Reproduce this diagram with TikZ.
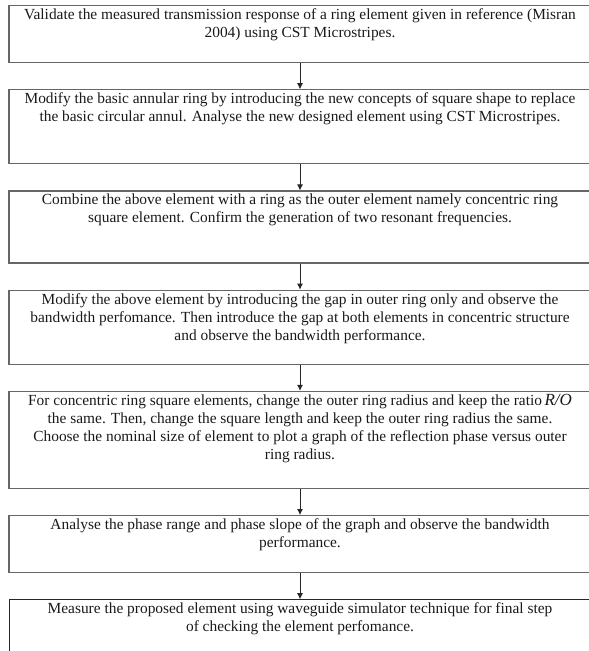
\documentclass[tikz,border=0pt]{standalone}
\usepackage{fontspec}
\setmainfont{Liberation Serif}
\usetikzlibrary{positioning,arrows.meta}

\tikzset{
  stepbox/.style={draw=black!60, line width=1.2pt, inner sep=0pt, text=black!90,
    execute at begin node={\begin{minipage}[t][#1][t]{582pt}\centering
      \fontsize{15.4pt}{18pt}\selectfont\vspace*{3pt}},
    execute at end node={\end{minipage}}},
  lastbox/.style={stepbox=#1, draw=black!85, line width=0.8pt},
  flow/.style={-{Latex[length=6pt,width=6pt]}, line width=0.8pt, black!85}
}

\begin{document}
\begin{tikzpicture}
  [node distance=26pt]
  \useasboundingbox (0,0) rectangle (589pt,-651pt);
  \clip (0,0) rectangle (589pt,-651pt);

  \node [name=validate, stepbox=57pt, anchor=north] at (300pt,-5pt)
    {Validate the measured transmission response of a ring element given in reference (Misran\\
     2004) using CST Microstripes.};
  \node [name=modify, stepbox=74pt, below=of validate]
    {Modify the basic annular ring by introducing the new concepts of square shape to replace\\
     the basic circular annul. Analyse the new designed element using CST Microstripes.};
  \node [name=combine, stepbox=72pt, below=of modify]
    {Combine the above element with a ring as the outer element namely concentric ring\\
     square element. Confirm the generation of two resonant frequencies.};
  \node [name=gap, stepbox=74pt, below=of combine]
    {Modify the above element by introducing the gap in outer ring only and observe the\\
     bandwidth perfomance. Then introduce the gap at both elements in concentric structure\\
     and observe the bandwidth performance.};
  \node [name=radius, stepbox=97pt, below=of gap]
    {For concentric ring square elements, change the outer ring radius and keep the ratio\,{\fontsize{17pt}{18pt}\selectfont\itshape R/O}\\
     the same. Then, change the square length and keep the outer ring radius the same.\\
     Choose the nominal size of element to plot a graph of the reflection phase versus outer\\
     ring radius.};
  \node [name=analyse, stepbox=57pt, below=of radius]
    {Analyse the phase range and phase slope of the graph and observe the bandwidth\\
     performance.};
  \node [name=measure, lastbox=70pt, below=of analyse]
    {Measure the proposed element using waveguide simulator technique for final step\\
     of checking the element perfomance.};

  \path [flow] (validate) edge (modify)
        (modify) edge (combine)
        (combine) edge (gap)
        (gap) edge (radius)
        (radius) edge (analyse)
        (analyse) edge (measure);
\end{tikzpicture}
\end{document}
